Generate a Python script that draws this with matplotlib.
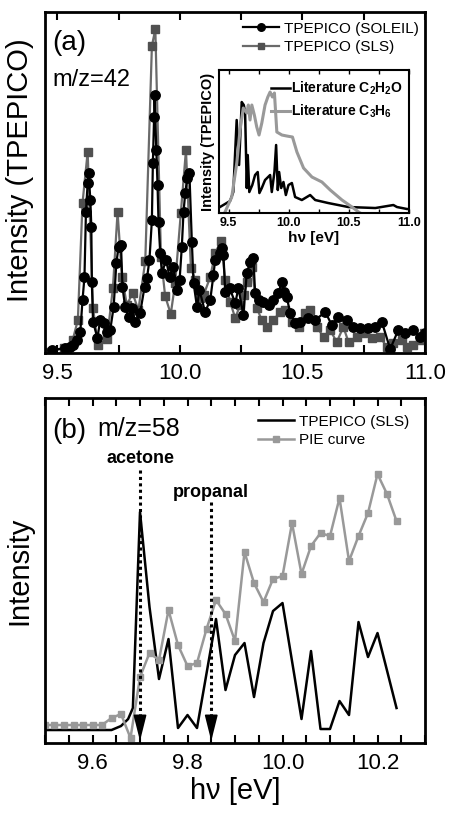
import matplotlib
matplotlib.use('Agg')
import matplotlib.pyplot as plt
from matplotlib.ticker import MultipleLocator, NullLocator

plt.rcParams['font.family'] = ['Liberation Sans', 'DejaVu Sans']
plt.rcParams['mathtext.fontset'] = 'custom'
plt.rcParams['mathtext.rm'] = 'Liberation Sans'
plt.rcParams['mathtext.bf'] = 'Liberation Sans:bold'

# ---- (a) m/z=42, TPEPICO spectra (arb. units) ----
soleil_e = [9.478, 9.533, 9.55, 9.565, 9.580, 9.594, 9.603, 9.611, 9.617, 9.624, 9.628,
            9.635, 9.639, 9.641, 9.646, 9.664, 9.675, 9.689, 9.703, 9.716, 9.730, 9.741,
            9.750, 9.760, 9.766, 9.777, 9.791, 9.805, 9.818, 9.838, 9.856, 9.866, 9.876,
            9.886, 9.890, 9.895, 9.897, 9.904, 9.909, 9.913, 9.920, 9.927, 9.944, 9.958,
            9.974, 9.988, 9.999, 10.008, 10.015, 10.022, 10.030, 10.039, 10.049, 10.056,
            10.070, 10.080, 10.103, 10.124, 10.137, 10.144, 10.162, 10.170, 10.178, 10.185,
            10.203, 10.226, 10.239, 10.259, 10.273, 10.287, 10.300, 10.307, 10.321, 10.341,
            10.362, 10.382, 10.402, 10.416, 10.423, 10.436, 10.450, 10.470, 10.491, 10.524,
            10.552, 10.593, 10.620, 10.647, 10.681, 10.708, 10.735, 10.769, 10.796, 10.824,
            10.858, 10.891, 10.919, 10.953, 10.980, 11.0]
soleil_i = [3, 5, 6, 8, 13, 21, 53, 76, 141, 170, 180,
            153, 126, 71, 31, 15, 33, 30, 21, 23, 46, 90,
            106, 108, 66, 46, 36, 45, 31, 40, 66, 75, 93,
            133, 190, 236, 258, 203, 168, 131, 100, 80, 93, 76,
            86, 63, 73, 106, 141, 160, 175, 180, 111, 70,
            46, 63, 41, 53, 78, 93, 100, 105, 98, 61,
            65, 50, 65, 38, 80, 91, 95, 60, 53, 51,
            48, 53, 60, 71, 61, 56, 40, 30, 31, 35,
            33, 41, 28, 36, 33, 26, 25, 25, 26, 31,
            4, 23, 20, 23, 16, 20]

sls_e = [9.471, 9.526, 9.563, 9.584, 9.603, 9.624, 9.646, 9.666, 9.703, 9.727, 9.746,
         9.764, 9.784, 9.807, 9.831, 9.859, 9.886, 9.900, 9.923, 9.940, 9.963, 9.981,
         10.004, 10.025, 10.045, 10.063, 10.083, 10.097, 10.124, 10.144, 10.168, 10.185,
         10.205, 10.226, 10.246, 10.262, 10.273, 10.294, 10.314, 10.334, 10.355, 10.382,
         10.409, 10.429, 10.457, 10.484, 10.511, 10.531, 10.559, 10.586, 10.613, 10.640,
         10.667, 10.688, 10.722, 10.749, 10.783, 10.817, 10.844, 10.871, 10.905, 10.926,
         10.953, 10.980, 10.996]
sls_i = [1, 5, 13, 33, 150, 201, 45, 8, 14, 65, 141,
         76, 48, 60, 43, 92, 307, 324, 96, 57, 39, 70,
         140, 203, 85, 73, 55, 58, 76, 100, 112, 73,
         51, 35, 48, 58, 71, 86, 45, 33, 26, 33,
         41, 43, 31, 26, 40, 43, 26, 16, 23, 11,
         26, 11, 16, 20, 15, 16, 6, 10, 13, 6,
         8, 13, 20]

# ---- inset: literature curves ----
c2h2o_e = [9.428, 9.512, 9.539, 9.567, 9.587, 9.609, 9.626, 9.637, 9.651, 9.659, 9.672,
           9.697, 9.720, 9.742, 9.756, 9.776, 9.803, 9.845, 9.859, 9.881, 9.895, 9.909,
           9.920, 9.937, 9.956, 9.976, 9.998, 10.026, 10.053, 10.109, 10.178, 10.220,
           10.328, 10.495, 10.720, 10.870, 10.900, 10.984, 11.0]
c2h2o_i = [6, 12, 21, 93, 48, 111, 108, 101, 25, 58, 21,
           28, 38, 41, 20, 25, 33, 38, 21, 41, 68, 23,
           41, 25, 31, 18, 28, 30, 16, 13, 18, 13,
           10, 6, 5, 8, 6, 4, 4]

c3h6_e = [9.470, 9.526, 9.568, 9.595, 9.622, 9.651, 9.664, 9.678, 9.693, 9.714, 9.734,
          9.753, 9.776, 9.803, 9.826, 9.845, 9.864, 9.881, 9.901, 9.943, 9.984, 10.031,
          10.068, 10.123, 10.193, 10.276, 10.345, 10.443, 10.526, 10.581, 10.637]
c3h6_i = [1, 16, 50, 83, 105, 100, 108, 93, 108, 98, 86,
          78, 90, 108, 116, 121, 116, 120, 81, 78, 77, 76,
          61, 45, 36, 31, 23, 13, 6, 1, -3]

# ---- (b) m/z=58 ----
tpepico_e = [9.50, 9.64, 9.66, 9.675, 9.685, 9.70, 9.72, 9.74, 9.76, 9.78, 9.80, 9.82,
             9.86, 9.88, 9.90, 9.92, 9.94, 9.96, 9.98, 10.00, 10.04, 10.06, 10.08, 10.10,
             10.12, 10.14, 10.16, 10.18, 10.20, 10.24]
tpepico_i = [13, 13, 17, 24, 35, 231, 136, 64, 104, 15, 28, 15,
             124, 53, 88, 100, 46, 100, 132, 140, 24, 92, 14, 14,
             42, 28, 121, 86, 110, 35]

pie_e = [9.50, 9.52, 9.54, 9.56, 9.58, 9.60, 9.62, 9.64, 9.66, 9.68, 9.70, 9.72, 9.74,
         9.76, 9.78, 9.80, 9.82, 9.84, 9.86, 9.88, 9.90, 9.92, 9.94, 9.96, 9.98, 10.00,
         10.02, 10.04, 10.06, 10.08, 10.10, 10.12, 10.14, 10.16, 10.18, 10.20, 10.22, 10.24]
pie_i = [18, 18, 18, 18, 18, 18, 18, 25, 29, 5, 66, 90, 83,
         133, 98, 77, 80, 114, 143, 129, 102, 191, 160, 141, 164, 167,
         220, 169, 197, 210, 207, 245, 182, 207, 230, 269, 249, 222]

acetone_e = 9.70
propanal_e = 9.85

fig = plt.figure(figsize=(4.55, 8.14), dpi=100)
ax1 = fig.add_axes([0.0989, 0.5663, 0.8352, 0.4189])
ax2 = fig.add_axes([0.0989, 0.0872, 0.8352, 0.4238])
axin = fig.add_axes([0.4813, 0.7383, 0.4176, 0.1757])

# panel (a)
l_sls, = ax1.plot(sls_e, sls_i, '-', color='#6a6a6a', lw=1.6, marker='s', ms=5.5,
                  mfc='#505050', mec='#505050', label='TPEPICO (SLS)')
l_sol, = ax1.plot(soleil_e, soleil_i, '-', color='k', lw=1.6, marker='o', ms=6.8,
                  label='TPEPICO (SOLEIL)')
ax1.set_xlim(9.45, 11.0)
ax1.set_ylim(0, 341)
ax1.xaxis.set_major_locator(MultipleLocator(0.5))
ax1.xaxis.set_minor_locator(MultipleLocator(0.25))
ax1.xaxis.set_major_formatter(plt.FormatStrFormatter('%.1f'))
ax1.yaxis.set_major_locator(NullLocator())
ax1.tick_params(axis='x', which='both', direction='in', top=True, labelsize=16,
                width=1.5, length=6, pad=7)
ax1.set_ylabel('Intensity (TPEPICO)', fontsize=21)
ax1.yaxis.set_label_coords(-0.03, 0.537)
ax1.legend([l_sol, l_sls], ['TPEPICO (SOLEIL)', 'TPEPICO (SLS)'], loc='upper right',
           bbox_to_anchor=(1.0, 0.99), borderaxespad=0, frameon=False, fontsize=11,
           handlelength=2.4, handletextpad=0.3, labelspacing=0.3, markerscale=0.8)
ax1.text(0.018, 0.91, '(a)', transform=ax1.transAxes, fontsize=20, va='center')
ax1.text(0.02, 0.80, 'm/z=42', transform=ax1.transAxes, fontsize=17, va='center')

# inset
axin.plot(c2h2o_e, c2h2o_i, '-', color='k', lw=1.8, label=r'Literature C$_\mathbf{2}$H$_\mathbf{2}$O')
axin.plot(c3h6_e, c3h6_i, '-', color='#999999', lw=2.2, label=r'Literature C$_\mathbf{3}$H$_\mathbf{6}$')
axin.set_xlim(9.42, 11.0)
axin.set_ylim(0, 143)
axin.xaxis.set_major_locator(MultipleLocator(0.5))
axin.xaxis.set_minor_locator(MultipleLocator(0.25))
axin.xaxis.set_major_formatter(plt.FormatStrFormatter('%.1f'))
axin.yaxis.set_major_locator(NullLocator())
axin.tick_params(axis='x', which='both', direction='in', top=True, labelsize=9,
                 width=1, length=3, pad=3)
for t in axin.get_xticklabels():
    t.set_fontweight('bold')
axin.set_xlabel('hν [eV]', fontsize=11, fontweight='bold', labelpad=1)
axin.set_ylabel('Intensity (TPEPICO)', fontsize=10.5, fontweight='bold', labelpad=3)
axin.legend(loc='upper right', bbox_to_anchor=(1.0, 0.97), borderaxespad=0,
            frameon=False, handlelength=1.4, handletextpad=0.1, labelspacing=0.4,
            prop={'size': 10, 'weight': 'bold'})
for s in axin.spines.values():
    s.set_linewidth(1.5)

# panel (b)
l_tp, = ax2.plot(tpepico_e, tpepico_i, '-', color='k', lw=1.8, label='TPEPICO (SLS)')
l_pie, = ax2.plot(pie_e, pie_i, '-', color='#999999', lw=1.8, marker='s', ms=4.5,
                  label='PIE curve')
ax2.set_xlim(9.5, 10.3)
ax2.set_ylim(0, 345)
ax2.xaxis.set_major_locator(MultipleLocator(0.2))
ax2.xaxis.set_minor_locator(MultipleLocator(0.05))
ax2.xaxis.set_major_formatter(plt.FormatStrFormatter('%.1f'))
ax2.yaxis.set_major_locator(NullLocator())
ax2.tick_params(axis='x', which='both', direction='in', top=True, labelsize=16,
                width=1.5, length=6, pad=7)
ax2.set_xlabel('hν [eV]', fontsize=21, labelpad=2)
ax2.set_ylabel('Intensity', fontsize=21)
ax2.yaxis.set_label_coords(-0.03, 0.5)
ax2.legend([l_tp, l_pie], ['TPEPICO (SLS)', 'PIE curve'], loc='upper right',
           bbox_to_anchor=(0.974, 0.97), borderaxespad=0, frameon=False, fontsize=11,
           handlelength=2.4, handletextpad=0.3, labelspacing=0.3)
ax2.text(0.018, 0.905, '(b)', transform=ax2.transAxes, fontsize=20, va='center')
ax2.text(0.137, 0.91, 'm/z=58', transform=ax2.transAxes, fontsize=18, va='center')

for xe, top, lab, ly in [(acetone_e, 273, 'acetone', 285), (propanal_e, 241, 'propanal', 251)]:
    ax2.plot([xe, xe], [top, 26], color='k', ls=(0, (1, 1.1)), lw=2.2)
    ax2.annotate('', xy=(xe, 2), xytext=(xe, 27),
                 arrowprops=dict(arrowstyle='-|>,head_length=1.6,head_width=0.4',
                                 color='k', lw=1.2, shrinkA=0, shrinkB=0, mutation_scale=10))
    ax2.text(xe, ly, lab, ha='center', va='center', fontsize=13, fontweight='bold')

for ax in (ax1, ax2):
    for s in ax.spines.values():
        s.set_linewidth(2)

fig.savefig('out.png', dpi=100)
